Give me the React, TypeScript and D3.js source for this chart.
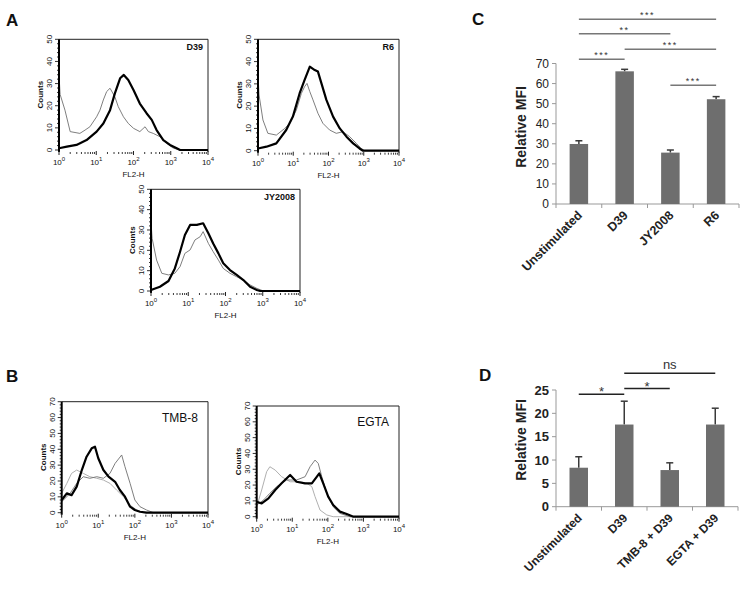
import React from 'react';
import * as d3 from 'd3';

type Pt = [number, number]; // [log10(FL2-H), counts]

const FONT = '"Liberation Sans", Arial, sans-serif';

// ---- panel A histograms ----
const d39Unstim: Pt[] = [[0, 34], [0.03, 25.1], [0.16, 18], [0.3, 8.3], [0.56, 7.5], [0.7, 9], [0.83, 10.5], [1.01, 15], [1.1, 18], [1.19, 22.6], [1.28, 26.4], [1.37, 27.9], [1.5, 24], [1.59, 19.6], [1.73, 15], [1.86, 12], [2.0, 9.8], [2.17, 8.3], [2.31, 10.5], [2.4, 8.3], [2.53, 7.5], [2.71, 6], [2.89, 3], [3.07, 0.8], [3.25, 0], [4, 0]];
const d39Stim: Pt[] = [[0, 0.8], [0.21, 1.5], [0.47, 2.3], [0.74, 4.5], [1.01, 8.3], [1.19, 12], [1.37, 18], [1.5, 25.6], [1.64, 32.4], [1.74, 33.9], [1.86, 31.6], [2.0, 27.1], [2.17, 21], [2.35, 16.6], [2.49, 13.6], [2.62, 9], [2.8, 4.5], [2.98, 2.3], [3.16, 0.8], [3.25, 0], [4, 0]];

const r6Unstim: Pt[] = [[0, 34], [0.03, 25], [0.14, 13.8], [0.28, 7.8], [0.52, 7], [0.76, 10], [0.9, 12.3], [1.09, 18.3], [1.23, 25.7], [1.32, 28.7], [1.39, 30.2], [1.47, 26.5], [1.56, 22.8], [1.7, 16.8], [1.84, 12.3], [2.03, 9.3], [2.22, 7.8], [2.41, 8.5], [2.6, 6.3], [2.79, 3.3], [2.93, 1], [3.03, 0], [4, 0]];
const r6Stim: Pt[] = [[0, 1], [0.24, 1.8], [0.52, 3.3], [0.8, 9.3], [0.99, 15.3], [1.18, 25.7], [1.32, 31.7], [1.47, 37.7], [1.61, 36.2], [1.7, 35.5], [1.8, 30.2], [1.94, 22.8], [2.13, 15.3], [2.32, 10], [2.51, 6.3], [2.7, 3.3], [2.88, 1], [2.98, 0], [4, 0]];

const jyUnstim: Pt[] = [[0, 34], [0.03, 25.9], [0.15, 15.2], [0.29, 8.7], [0.47, 7.9], [0.64, 8.7], [0.78, 12], [0.91, 18.5], [1.05, 20.2], [1.18, 25.1], [1.32, 26.7], [1.4, 29.2], [1.54, 23.4], [1.67, 19.3], [1.81, 15.2], [1.94, 11.1], [2.12, 8.7], [2.3, 7], [2.48, 5.4], [2.66, 3], [2.84, 1.3], [3.02, 0], [4, 0]];
const jyStim: Pt[] = [[0, 0.5], [0.24, 2.1], [0.47, 4.9], [0.64, 11.1], [0.78, 19.3], [0.91, 27.5], [1.05, 32.5], [1.23, 32.5], [1.4, 33.3], [1.54, 28.4], [1.67, 23.4], [1.81, 18.5], [1.94, 13.6], [2.12, 10.3], [2.3, 7.9], [2.48, 5.4], [2.66, 2.1], [2.84, 0.5], [2.93, 0], [4, 0]];

// ---- panel B histograms ----
const tmbUnstim: Pt[] = [[0, 12.2], [0.14, 18.5], [0.27, 24.8], [0.41, 26.9], [0.59, 24.8], [0.77, 22.7], [0.96, 21.7], [1.14, 20.6], [1.32, 18.5], [1.5, 14.3], [1.69, 10.1], [1.87, 4.8], [2.05, 1.7], [2.23, 0], [4, 0]];
const tmbD39: Pt[] = [[0, 6.9], [0.23, 12.2], [0.41, 18.5], [0.59, 22.7], [0.77, 21.7], [0.96, 22.7], [1.14, 21.7], [1.32, 24.8], [1.46, 31.1], [1.64, 36.4], [1.73, 29], [1.87, 18.5], [2.0, 8], [2.14, 3.8], [2.32, 1.7], [2.51, 0], [4, 0]];
const tmbInhib: Pt[] = [[0, 8], [0.14, 12.2], [0.27, 11.1], [0.41, 16.4], [0.55, 26.9], [0.68, 35.3], [0.82, 40.6], [0.91, 41.6], [1.0, 34.3], [1.14, 26.9], [1.28, 22.7], [1.46, 19.5], [1.59, 14.3], [1.73, 10.1], [1.87, 3.8], [2.0, 1.7], [2.14, 0.6], [2.32, 0], [4, 0]];

const egtaUnstim: Pt[] = [[0, 6.3], [0.14, 16.9], [0.28, 28.5], [0.37, 31.6], [0.52, 29.5], [0.7, 25.3], [0.94, 22.1], [1.22, 22.1], [1.41, 21.1], [1.55, 19], [1.64, 12.7], [1.78, 4.2], [1.97, 1.1], [2.15, 0], [4, 0]];
const egtaD39: Pt[] = [[0, 7.4], [0.19, 10.5], [0.37, 14.8], [0.56, 19], [0.84, 23.2], [1.12, 23.2], [1.36, 25.3], [1.5, 31.6], [1.64, 35.8], [1.73, 33.7], [1.83, 25.3], [1.97, 14.8], [2.15, 6.3], [2.34, 2.1], [2.62, 0], [4, 0]];
const egtaInhib: Pt[] = [[0, 9.5], [0.14, 8.4], [0.33, 11.6], [0.52, 16.9], [0.7, 21.1], [0.94, 26.4], [1.12, 22.1], [1.36, 21.1], [1.55, 21.1], [1.76, 27.4], [1.87, 21.1], [2.01, 12.7], [2.15, 7.4], [2.34, 3.2], [2.53, 1.7], [2.72, 0], [4, 0]];

const decadeTicks = [0, 1, 2, 3, 4];
const countTicksA = [0, 10, 20, 30, 40, 50];
const countTicksB = [0, 10, 20, 30, 40, 50, 60, 70];

// ---- panel C ----
const catsC = ['Unstimulated', 'D39', 'JY2008', 'R6'];
const mfiC = [29.9, 66.1, 25.6, 52.2];
const errC = [1.6, 1.0, 1.3, 1.3];
const ticksC = [0, 10, 20, 30, 40, 50, 60, 70];
const sigC: [string, string, string][] = [
  ['Unstimulated', 'R6', '***'],
  ['Unstimulated', 'JY2008', '**'],
  ['D39', 'R6', '***'],
  ['Unstimulated', 'D39', '***'],
  ['JY2008', 'R6', '***'],
];

// ---- panel D ----
const catsD = ['Unstimulated', 'D39', 'TMB-8 + D39', 'EGTA + D39'];
const mfiD = [8.35, 17.6, 7.85, 17.6];
const errD = [2.35, 5.0, 1.55, 3.5];
const ticksD = [0, 5, 10, 15, 20, 25];
const sigD: [string, string, string][] = [
  ['Unstimulated', 'D39', '*'],
  ['D39', 'TMB-8 + D39', '*'],
  ['D39', 'EGTA + D39', 'ns'],
];

type Series = { data: Pt[]; stroke: string; width: number };

function Histogram(props: {
  x0: number; x1: number; yTop: number; y0: number;
  ticks: number[]; title: string; titleSize: number; titleBold: boolean;
  series: Series[];
}) {
  const { x0, x1, yTop, y0, ticks, title, titleSize, titleBold, series } = props;
  const yMax = ticks[ticks.length - 1];
  const x = d3.scaleLinear().domain([0, 4]).range([x0, x1]);
  const y = d3.scaleLinear().domain([0, yMax]).range([y0, yTop]);
  const line = d3.line<Pt>().x(d => x(d[0])).y(d => y(d[1]));
  const minorY = d3.range(0, yMax + 0.01, 2);
  const minorX: number[] = [];
  decadeTicks.slice(0, -1).forEach(k => {
    for (let m = 2; m <= 9; m++) minorX.push(k + Math.log10(m));
  });
  const xc = (x0 + x1) / 2;
  const yc = (yTop + y0) / 2;
  return (
    <g fontFamily={FONT}>
      {/* box */}
      <line x1={x0} x2={x1} y1={yTop} y2={yTop} stroke="#222" strokeWidth={1} />
      <line x1={x1} x2={x1} y1={yTop} y2={y0 + 2} stroke="#222" strokeWidth={1} />
      {/* curves */}
      {series.map((s, i) => (
        <path key={i} d={line(s.data) || ''} fill="none" stroke={s.stroke} strokeWidth={s.width} strokeLinejoin="round" />
      ))}
      {/* left axis */}
      <line x1={x0} x2={x0} y1={yTop} y2={y0 + 2} stroke="#000" strokeWidth={2} />
      {minorY.map(v => (
        <line key={v} x1={x0 - (v % 10 === 0 ? 4 : 2)} x2={x0} y1={y(v)} y2={y(v)} stroke="#000" strokeWidth={0.8} />
      ))}
      {ticks.map(v => (
        <text key={v} transform={`translate(${x0 - 7},${y(v)}) rotate(-90)`} textAnchor="middle" fontSize={8} fill="#111">
          {v}
        </text>
      ))}
      <text transform={`translate(${x0 - 16},${yc}) rotate(-90)`} textAnchor="middle" fontSize={8} fontWeight="bold" fill="#111">
        Counts
      </text>
      {/* bottom log ticks */}
      {minorX.map((v, i) => (
        <line key={i} x1={x(v)} x2={x(v)} y1={y0 + 2} y2={y0 + 4} stroke="#222" strokeWidth={0.9} />
      ))}
      {decadeTicks.map(k => (
        <line key={k} x1={x(k)} x2={x(k)} y1={y0 + 1} y2={y0 + 5} stroke="#222" strokeWidth={1} />
      ))}
      {decadeTicks.map(k => (
        <text key={k} x={x(k)} y={y0 + 15} textAnchor="middle" fontSize={8} fill="#111">
          10<tspan dy={-4} fontSize={6}>{k}</tspan>
        </text>
      ))}
      <text x={xc} y={y0 + 27} textAnchor="middle" fontSize={8} fill="#111">FL2-H</text>
      <text x={x1 - (titleBold ? 5 : 10)} y={yTop + (titleBold ? 11 : 20)} textAnchor="end" fontSize={titleSize} fontWeight={titleBold ? 'bold' : 'normal'} fill="#111">
        {title}
      </text>
    </g>
  );
}

function BarPanel(props: {
  cats: string[]; values: number[]; errs: number[]; ticks: number[];
  left: number; right: number; top: number; bottom: number;
  tickFont: number; tickBold: boolean; catFont: number;
  sig: [string, string, string][]; sigLevels: number[];
  sigColor: string; starFont: number; labelY: number;
}) {
  const p = props;
  const x = d3.scaleBand<string>().domain(p.cats).range([p.left, p.right]).padding(0);
  const y = d3.scaleLinear().domain([0, p.ticks[p.ticks.length - 1]]).range([p.bottom, p.top]);
  const bw = 18.5;
  const cx = (c: string) => (x(c) as number) + x.bandwidth() / 2;
  const bounds = [...p.cats.map(c => x(c) as number), p.right];
  return (
    <g fontFamily={FONT}>
      {/* axes */}
      <line x1={p.left} x2={p.left} y1={p.top} y2={p.bottom} stroke="#999" strokeWidth={1} />
      <line x1={p.left} x2={p.right} y1={p.bottom} y2={p.bottom} stroke="#999" strokeWidth={1} />
      {p.ticks.map(t => (
        <g key={t}>
          <line x1={p.left - 4} x2={p.left} y1={y(t)} y2={y(t)} stroke="#999" strokeWidth={1} />
          <text x={p.left - 7} y={y(t)} dy="0.36em" textAnchor="end" fontSize={p.tickFont} fontWeight={p.tickBold ? 'bold' : 'normal'} fill="#222">
            {t}
          </text>
        </g>
      ))}
      {bounds.map((b, i) => (
        <line key={i} x1={b} x2={b} y1={p.bottom} y2={p.bottom + 4} stroke="#999" strokeWidth={1} />
      ))}
      {/* bars */}
      {p.cats.map((c, i) => (
        <g key={c}>
          <line x1={cx(c)} x2={cx(c)} y1={y(p.values[i])} y2={y(p.values[i] + p.errs[i])} stroke="#3a3a3a" strokeWidth={1.5} />
          <line x1={cx(c) - 3.5} x2={cx(c) + 3.5} y1={y(p.values[i] + p.errs[i])} y2={y(p.values[i] + p.errs[i])} stroke="#3a3a3a" strokeWidth={1.5} />
          <rect x={cx(c) - bw / 2} y={y(p.values[i])} width={bw} height={p.bottom - y(p.values[i])} fill="#6e6e6e" />
        </g>
      ))}
      {/* category labels */}
      {p.cats.map(c => (
        <text key={c} transform={`translate(${cx(c) + 4},${p.bottom + 12}) rotate(-45)`} textAnchor="end" fontSize={p.catFont} fontWeight="bold" fill="#222">
          {c}
        </text>
      ))}
      {/* y label */}
      <text transform={`translate(${p.left - 30},${p.labelY}) rotate(-90)`} textAnchor="middle" fontSize={14} fontWeight="bold" fill="#222">
        Relative MFI
      </text>
      {/* significance */}
      {p.sig.map(([a, b, lab], i) => {
        const ly = p.sigLevels[i];
        const isNs = lab === 'ns';
        return (
          <g key={i}>
            <line x1={cx(a)} x2={cx(b)} y1={ly} y2={ly} stroke={p.sigColor} strokeWidth={1.5} />
            <text x={(cx(a) + cx(b)) / 2} y={isNs ? ly - 4 : ly + (p.starFont > 11 ? 2 : -1)} textAnchor="middle"
              fontSize={isNs ? 13 : p.starFont} letterSpacing={p.starFont > 11 ? 0 : 1.5} fill="#333">
              {lab}
            </text>
          </g>
        );
      })}
    </g>
  );
}

export default function App() {
  const thin = '#707070';
  const light = '#b0b0b0';
  return (
    <div style={{ position: 'absolute', left: 0, top: 0 }}>
      <svg width={746} height={591} style={{ display: 'block', background: '#fff' }}>
        <g fontFamily={FONT} fontWeight="bold" fontSize={17} fill="#111">
          <text x={6} y={26}>A</text>
          <text x={6} y={382}>B</text>
          <text x={472} y={25}>C</text>
          <text x={479} y={381}>D</text>
        </g>

        <Histogram x0={59} x1={208} yTop={39.3} y0={150} ticks={countTicksA} title="D39" titleSize={9} titleBold
          series={[{ data: d39Unstim, stroke: thin, width: 0.9 }, { data: d39Stim, stroke: '#000', width: 2.2 }]} />
        <Histogram x0={258} x1={399} yTop={39.3} y0={150.7} ticks={countTicksA} title="R6" titleSize={9} titleBold
          series={[{ data: r6Unstim, stroke: thin, width: 0.9 }, { data: r6Stim, stroke: '#000', width: 2.2 }]} />
        <Histogram x0={151} x1={300} yTop={189.3} y0={291} ticks={countTicksA} title="JY2008" titleSize={9} titleBold
          series={[{ data: jyUnstim, stroke: thin, width: 0.9 }, { data: jyStim, stroke: '#000', width: 2.2 }]} />

        <Histogram x0={61.7} x1={208} yTop={401.7} y0={512.7} ticks={countTicksB} title="TMB-8" titleSize={12} titleBold={false}
          series={[{ data: tmbUnstim, stroke: light, width: 1 }, { data: tmbD39, stroke: thin, width: 0.9 }, { data: tmbInhib, stroke: '#000', width: 2.2 }]} />
        <Histogram x0={256.7} x1={399} yTop={406} y0={516.7} ticks={countTicksB} title="EGTA" titleSize={12} titleBold={false}
          series={[{ data: egtaUnstim, stroke: light, width: 1 }, { data: egtaD39, stroke: thin, width: 0.9 }, { data: egtaInhib, stroke: '#000', width: 2.2 }]} />

        <BarPanel cats={catsC} values={mfiC} errs={errC} ticks={ticksC}
          left={556} right={739} top={63.5} bottom={204}
          tickFont={12} tickBold={false} catFont={12.5}
          sig={sigC} sigLevels={[19.3, 33.7, 49.3, 59.3, 85.3]} sigColor="#777" starFont={9} labelY={127} />
        <BarPanel cats={catsD} values={mfiD} errs={errD} ticks={ticksD}
          left={556} right={738} top={390} bottom={506.7}
          tickFont={13} tickBold catFont={12}
          sig={sigD} sigLevels={[394.3, 388.5, 373.3]} sigColor="#222" starFont={13} labelY={440} />
      </svg>
    </div>
  );
}
